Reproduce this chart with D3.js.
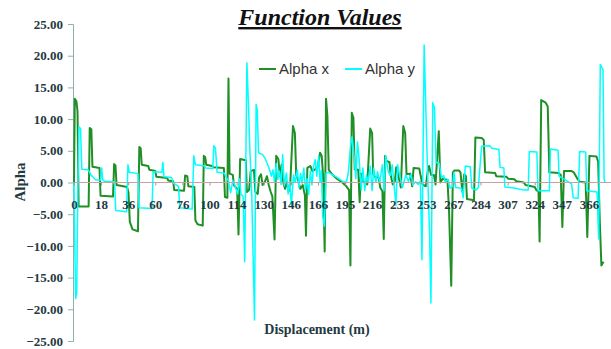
<!DOCTYPE html>
<html>
<head>
<meta charset="utf-8">
<script src="https://cdn.jsdelivr.net/npm/d3@7"></script>
<style>
  html, body { margin: 0; padding: 0; background: #fff; }
  svg { display: block; }
</style>
</head>
<body>
<svg id="chart" width="611" height="349"></svg>
<script>
// Sample positions along the run (index) and the displacement shown at every 10th sample
const tickIndex = [0, 10, 20, 30, 40, 50, 60, 70, 80, 90, 100, 110, 120, 130, 140, 150, 160, 170, 180, 190];
const tickLabels = [0, 18, 36, 60, 76, 100, 114, 130, 146, 166, 195, 216, 233, 253, 267, 284, 307, 324, 347, 366];
const yTicks = [25, 20, 15, 10, 5, 0, -5, -10, -15, -20, -25];

// Alpha x: [sample index, value]
const alphaX = [
  [0,0],[0.3,13.2],[0.9,12.8],[1.3,11.2],[1.7,-3.8],[5.4,-3.8],[5.8,8.6],[6.4,8.4],[6.8,2.5],[9.4,2.3],
  [9.8,-2.1],[14.4,-2.2],[14.8,2.9],[15.3,2.7],[15.7,-0.4],[19.6,-0.7],[20.1,-1.6],[20.6,-6.2],[21.6,-7.4],[23.6,-7.7],
  [24.1,5.6],[24.6,5.4],[25.0,2.8],[27.4,2.6],[27.8,2.0],[30.0,1.8],[30.4,0.9],[34.4,0.7],[34.8,0.3],[36.6,0.2],
  [37.0,-1.2],[40.6,-1.3],[41.0,1.1],[41.8,1.0],[42.2,-0.6],[44.4,-0.7],[44.8,-6.0],[45.6,-6.6],[47.5,-6.8],[47.9,4.2],
  [48.4,4.0],[48.8,2.8],[51.0,2.6],[51.4,2.4],[55.3,2.3],[55.7,-2.3],[56.6,-2.4],[57.0,16.4],[57.4,1.4],[58.6,1.2],
  [59.0,-0.4],[60.2,-1.0],[60.7,-8.2],[61.3,3.7],[63.4,3.5],[63.8,-1.5],[64.6,-1.2],[65.2,1.8],[66.4,2.0],[66.9,-1.5],
  [67.8,-1.8],[68.3,0.8],[69.0,1.3],[69.6,-0.4],[70.5,0.2],[71.2,1.0],[71.8,-0.3],[72.6,-1.5],[73.2,-2.2],[74.0,-9.0],
  [74.6,4.2],[75.4,3.7],[76.0,1.0],[76.6,2.8],[77.2,0.0],[77.9,-1.0],[78.5,0.1],[79.2,-1.4],[79.8,-0.2],[80.8,8.9],
  [81.5,7.8],[82.0,1.2],[82.8,0.2],[83.5,-1.0],[84.4,-0.4],[85.2,-2.0],[85.6,-8.4],[86.1,2.3],[87.2,2.6],[88.0,1.8],
  [89.4,2.2],[90.0,2.6],[90.8,4.7],[91.4,4.2],[91.9,1.2],[92.5,-10.9],[93.0,13.2],[93.5,10.5],[94.0,2.0],[95.2,1.3],
  [97.0,0.6],[99.0,0.0],[100.5,-0.6],[101.5,-1.2],[102.0,-13.1],[102.5,11.0],[103.1,10.2],[103.6,2.1],[104.9,2.0],[105.4,-3.1],
  [105.9,1.4],[106.6,0.2],[108.2,-0.3],[109.3,8.5],[110.0,7.8],[110.4,1.3],[111.0,0.9],[112.4,0.8],[113.0,-0.8],[113.8,-1.4],
  [114.3,-8.9],[114.8,4.2],[115.3,3.4],[116.4,3.2],[116.8,1.3],[117.6,-0.3],[118.4,0.2],[118.9,2.4],[119.6,1.3],[120.6,-0.8],
  [121.5,8.9],[122.2,7.8],[122.7,1.3],[124.0,1.4],[124.8,-0.6],[125.3,2.3],[127.4,2.2],[127.8,1.3],[128.6,-0.3],[129.8,-0.6],
  [130.6,2.0],[131.0,2.6],[131.8,1.2],[132.8,1.2],[133.4,-0.3],[134.6,8.1],[135.2,0.0],[136.0,0.6],[137.8,0.4],[138.4,-4.6],
  [139.2,-16.3],[139.8,1.6],[140.4,1.9],[142.0,1.9],[142.6,1.6],[143.3,-1.4],[144.0,1.3],[144.6,1.0],[145.0,-2.6],[147.6,-2.8],
  [148.1,7.1],[150.5,7.0],[151.2,6.7],[151.7,1.6],[155.4,1.5],[155.8,1.0],[159.6,0.9],[160.2,0.6],[162.5,0.5],[163.2,0.2],
  [166.0,0.0],[166.6,-0.4],[170.0,-0.7],[170.6,-1.2],[171.4,-1.4],[171.8,-9.3],[172.4,13.0],[174.0,12.6],[174.8,12.0],[175.4,1.6],
  [178.8,1.5],[179.6,1.2],[180.2,-7.0],[180.8,1.8],[183.6,1.8],[184.4,1.6],[185.6,0.7],[186.6,0.1],[188.8,0.0],[189.4,-8.6],
  [190.2,4.2],[192.8,4.1],[193.4,3.3],[194.0,-6.0],[194.6,-13.1],[195.4,-12.5]
];

// Alpha y: [sample index, value]
const alphaY = [
  [0,0],[0.3,-10],[0.6,-18.3],[1.0,-17.5],[1.4,-2],[1.8,8.8],[2.4,8.5],[2.9,2.1],[5.2,2.0],[5.8,1.6],
  [6.2,1.2],[7.8,0.5],[8.2,0.4],[9.8,0.4],[10.2,2.3],[10.6,0.4],[11.4,0.2],[14.6,0.1],[15.0,-0.4],[15.4,-4.4],
  [19.4,-4.6],[19.9,2.8],[20.4,1.6],[23.6,1.4],[24.0,-4.0],[28.8,-4.1],[29.2,1.7],[32.4,1.6],[32.8,3.2],[33.2,0.9],
  [36.0,0.8],[36.6,-0.1],[38.6,-0.6],[39.0,-4.0],[43.6,-4.2],[44.2,4.2],[44.8,2.8],[48.2,2.6],[48.6,2.3],[51.2,2.2],
  [51.6,5.8],[52.2,5.4],[52.8,1.6],[55.4,1.5],[55.9,1.1],[57.0,0.2],[57.8,-1.6],[58.6,0.3],[59.4,-0.5],[60.4,-1.8],
  [61.0,0.6],[61.6,-1.8],[62.4,-2.2],[63.0,-12.5],[63.8,18.9],[64.4,12.0],[64.9,5.0],[65.6,-2.0],[66.6,-21.7],[67.2,12.3],
  [67.6,11.5],[68.1,4.7],[69.6,4.4],[70.5,3.8],[71.3,3.0],[72.0,2.2],[72.8,1.0],[73.4,2.0],[74.0,0.0],[74.6,3.0],
  [75.2,0.5],[75.8,1.8],[76.4,-0.3],[77.0,4.4],[77.6,-0.5],[78.4,1.5],[79.0,-1.8],[79.6,0.2],[80.2,-3.6],[81.0,1.2],
  [81.6,0.0],[82.4,2.0],[83.0,-0.8],[83.6,1.4],[84.2,-0.1],[84.8,2.3],[85.4,-1.2],[86.0,0.6],[86.6,-1.9],[87.2,1.8],
  [87.8,-0.4],[88.4,2.5],[89.0,3.6],[89.6,1.0],[90.3,4.2],[90.8,0.0],[91.3,1.9],[91.8,-5.4],[92.4,-6.9],[93.0,1.5],
  [94.0,1.6],[95.0,1.3],[97.0,0.8],[99.0,0.2],[100.5,0.0],[101.2,1.5],[102.0,5.6],[102.6,7.2],[103.3,4.5],[104.0,0.6],
  [104.6,6.4],[105.2,3.8],[106.0,-1.2],[106.6,2.3],[107.3,-1.3],[107.9,1.2],[108.6,0.0],[109.3,2.6],[110.0,-1.3],[110.6,2.3],
  [111.4,0.0],[112.0,1.7],[112.8,0.0],[113.8,2.8],[114.4,-1.3],[115.0,4.2],[116.0,1.6],[116.8,1.1],[117.4,2.8],[118.2,-0.8],
  [118.8,-3.6],[119.4,2.8],[120.2,1.1],[121.2,-0.8],[122.4,1.2],[123.4,0.2],[124.4,1.3],[125.0,-0.4],[126.0,0.1],[127.0,-0.3],
  [127.8,0.2],[128.4,-12.2],[129.2,21.7],[129.8,12.0],[130.4,2.5],[131.2,-8.0],[131.7,-19.0],[132.4,12.6],[133.0,11.8],[133.6,3.2],
  [134.8,3.0],[135.6,0.7],[136.4,1.1],[137.0,0.0],[138.0,0.5],[138.8,-0.9],[139.6,-0.7],[140.2,1.6],[140.8,-0.8],[143.0,-0.9],
  [143.6,-2.4],[144.4,2.6],[146.2,2.5],[146.8,-0.9],[148.4,-1.2],[149.2,-0.8],[150.4,5.7],[153.4,5.8],[154.2,5.4],[156.8,5.2],
  [157.2,2.4],[158.6,2.3],[159.0,-0.7],[163.0,-0.9],[166.0,-1.2],[167.6,-1.2],[168.0,4.9],[170.8,4.8],[171.2,-1.3],[175.4,-1.3],
  [175.8,5.3],[178.6,5.1],[179.0,1.0],[181.0,0.5],[183.6,-0.2],[184.2,-2.4],[186.0,-2.5],[186.6,4.9],[188.8,4.8],[189.2,-1.3],
  [193.0,-1.5],[193.6,-8.9],[194.2,18.6],[195.2,17.8],[195.6,0.5],[196.0,0]
];

const svg = d3.select("#chart");
const textColor = "#1f3a42";
const serif = "'Liberation Serif', 'Times New Roman', serif";

const x = d3.scaleLinear().domain([0, 198]).range([74, 610.6]);
const y = d3.scaleLinear().domain([-25, 25]).range([341, 24]);

// Title
svg.append("text")
  .attr("x", 320).attr("y", 25)
  .attr("text-anchor", "middle")
  .attr("font-family", serif)
  .attr("font-size", 24)
  .attr("font-weight", "bold")
  .attr("font-style", "italic")
  .attr("text-decoration", "underline")
  .attr("fill", "#111")
  .text("Function Values");

// Y axis
const yAxis = svg.append("g")
  .attr("transform", `translate(${x(0) - 1},0)`)
  .call(d3.axisLeft(y).tickValues(yTicks).tickSize(5).tickPadding(5)
    .tickFormat(d => d3.format(".2f")(d)));
yAxis.select(".domain").attr("stroke", "#8fb0b0");
yAxis.selectAll(".tick line").attr("stroke", "#8fb0b0");
yAxis.selectAll(".tick text")
  .attr("font-family", serif).attr("font-size", 13).attr("font-weight", "bold")
  .attr("fill", textColor);

// Series lines
const line = d3.line().x(d => x(d[0])).y(d => y(d[1]));

svg.append("path").datum(alphaX)
  .attr("d", line)
  .attr("fill", "none")
  .attr("stroke", "#1f8f26")
  .attr("stroke-width", 2)
  .attr("stroke-linejoin", "round");

svg.append("path").datum(alphaY)
  .attr("d", line)
  .attr("fill", "none")
  .attr("stroke", "#00ffff")
  .attr("stroke-width", 1.5)
  .attr("stroke-linejoin", "round");

// X axis along the zero line
const xAxis = svg.append("g")
  .attr("transform", `translate(0,${y(0)})`)
  .call(d3.axisBottom(x).tickValues(tickIndex).tickSize(3).tickPadding(14)
    .tickFormat((d, i) => tickLabels[i]));
xAxis.select(".domain").attr("stroke", "#c9a0a0").attr("d", `M${x(0)},0H611`);
xAxis.selectAll(".tick line").attr("stroke", "#999");
xAxis.selectAll(".tick text")
  .attr("font-family", serif).attr("font-size", 13).attr("font-weight", "bold")
  .attr("fill", textColor);

// Axis titles
svg.append("text")
  .attr("transform", "translate(25,182) rotate(-90)")
  .attr("text-anchor", "middle")
  .attr("font-family", serif).attr("font-size", 15).attr("font-weight", "bold")
  .attr("fill", textColor)
  .text("Alpha");

svg.append("text")
  .attr("x", 317).attr("y", 334)
  .attr("text-anchor", "middle")
  .attr("font-family", serif).attr("font-size", 14).attr("font-weight", "bold")
  .attr("fill", textColor)
  .text("Displacement (m)");

// Legend
const legendItems = [
  { name: "Alpha x", color: "#1f8f26", x: 259 },
  { name: "Alpha y", color: "#00ffff", x: 345 }
];
const legend = svg.append("g");
legendItems.forEach(item => {
  legend.append("line")
    .attr("x1", item.x).attr("x2", item.x + 17)
    .attr("y1", 69).attr("y2", 69)
    .attr("stroke", item.color).attr("stroke-width", 2);
  legend.append("text")
    .attr("x", item.x + 20).attr("y", 74)
    .attr("font-family", "'Liberation Sans', Arial, sans-serif")
    .attr("font-size", 15)
    .attr("fill", "#333")
    .text(item.name);
});
</script>
</body>
</html>
